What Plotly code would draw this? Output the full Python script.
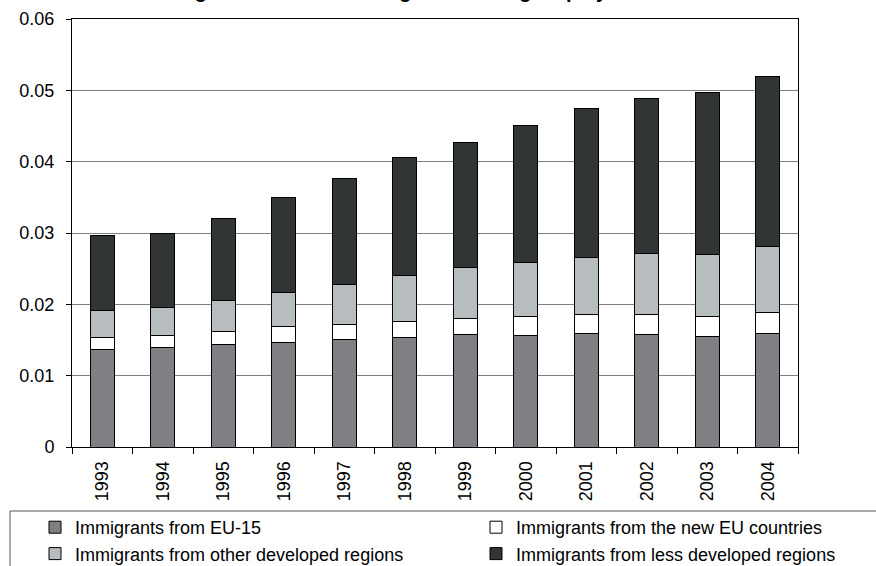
import plotly.graph_objects as go

years = ["1993", "1994", "1995", "1996", "1997", "1998", "1999", "2000", "2001", "2002", "2003", "2004"]
eu15 = [0.01370, 0.01393, 0.01435, 0.01472, 0.01514, 0.01533, 0.01580, 0.01570, 0.01598, 0.01580, 0.01556, 0.01598]
new_eu = [0.00168, 0.00168, 0.00187, 0.00215, 0.00210, 0.00233, 0.00226, 0.00262, 0.00253, 0.00271, 0.00276, 0.00290]
other_dev = [0.00369, 0.00392, 0.00435, 0.00472, 0.00557, 0.00641, 0.00708, 0.00757, 0.00808, 0.00864, 0.00864, 0.00916]
less_dev = [0.01065, 0.01043, 0.01144, 0.01332, 0.01481, 0.01649, 0.01752, 0.01925, 0.02084, 0.02168, 0.02277, 0.02397]

series_names = ["Immigrants from EU-15", "Immigrants from the new EU countries",
                "Immigrants from other developed regions", "Immigrants from less developed regions"]
series_values = [eu15, new_eu, other_dev, less_dev]
series_colors = ["#7e8083", "#ffffff", "#b7bcbf", "#323536"]
series_legend = ["legend", "legend2", "legend", "legend2"]

FONT = "Liberation Sans, Arial, sans-serif"

fig = go.Figure()
for name, vals, col, lg in zip(series_names, series_values, series_colors, series_legend):
    fig.add_trace(go.Bar(
        x=years, y=vals, name=name, legend=lg,
        marker=dict(color=col, line=dict(color="#000000", width=1)),
    ))

W, H = 876, 566
L, R, T, B = 72, 78, 19, 119
pw, ph = W - L - R, H - T - B

def px_x(x):
    return (x - L) / pw

def px_y(y):
    return (H - B - y) / ph

legend_common = dict(
    orientation="v",
    traceorder="normal",
    yanchor="top",
    font=dict(family=FONT, size=18, color="#000000"),
    bgcolor="rgba(0,0,0,0)",
    itemclick=False,
    tracegroupgap=0,
)

fig.update_layout(
    width=W, height=H,
    margin=dict(l=L, r=R, t=T, b=B, autoexpand=False),
    barmode="stack",
    bargap=0.6,
    plot_bgcolor="#ffffff",
    paper_bgcolor="#ffffff",
    font=dict(family=FONT, size=18, color="#000000"),
    showlegend=True,
    legend=dict(x=px_x(35), xanchor="left", y=px_y(509), **legend_common),
    legend2=dict(x=px_x(476), xanchor="left", y=px_y(509), **legend_common),
    xaxis=dict(
        type="category",
        tickangle=-90,
        ticks="outside", tickson="boundaries", ticklen=6, tickcolor="#000000",
        showline=True, linecolor="#000000", linewidth=1, mirror=True,
        showgrid=False,
        tickfont=dict(family=FONT, size=18, color="#000000"),
        ticklabelstandoff=6,
    ),
    yaxis=dict(
        range=[0, 0.06], dtick=0.01,
        ticks="outside", ticklen=5, tickcolor="#000000",
        showline=True, linecolor="#000000", linewidth=1, mirror=True,
        showgrid=True, gridcolor="#808080", gridwidth=1,
        zeroline=False,
        tickfont=dict(family=FONT, size=18, color="#000000"),
        ticklabelstandoff=8,
    ),
    shapes=[dict(
        type="rect", xref="paper", yref="paper",
        x0=px_x(10), x1=px_x(890), y0=px_y(511), y1=px_y(600),
        line=dict(color="#555555", width=1), fillcolor="rgba(0,0,0,0)",
        layer="below",
    )],
    annotations=[dict(
        text="<b>Figure 1: Share of immigrants among employed workers</b>",
        xref="paper", yref="paper",
        x=px_x(445), y=px_y(4), xanchor="center", yanchor="bottom",
        showarrow=False,
        font=dict(family=FONT, size=20, color="#000000"),
    )],
)

fig.write_html("out.html")
